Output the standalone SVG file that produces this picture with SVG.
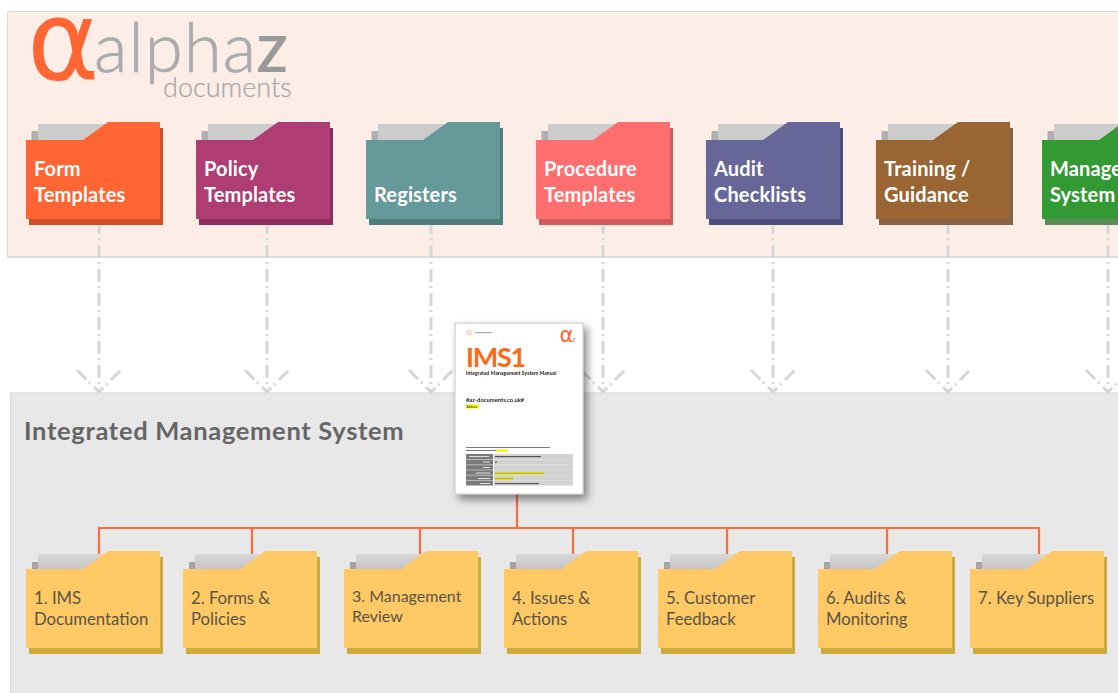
<svg xmlns="http://www.w3.org/2000/svg" width="1118" height="693" viewBox="0 0 1118 693">
<defs>
<style>
text{font-family:"Lato","Carlito","Liberation Sans",sans-serif}
.t{font-size:20px;font-weight:700;fill:#fff;letter-spacing:.15px}
.b{font-size:16.700px;fill:#5a5444}
.arrow{fill:none;stroke:#d6d6d6;stroke-width:3;stroke-dasharray:13 4 2 5}
.tree{fill:none;stroke:#ff6b3d;stroke-width:2.2}
.th{fill:#7a7a7a}.td{fill:#d2d2d2}.hl{fill:#f2f200}.ln{fill:#555}
</style>
<linearGradient id="tab" x1="0" y1="0" x2="0" y2="1"><stop offset="0" stop-color="#d8d8d8"/><stop offset="1" stop-color="#c2c2c2"/></linearGradient>
<g id="back"><path fill="#b0b0b0" d="M5.500 9h7v11h-7z"/><path fill="#cccccc" d="M12 2h70v20H12z"/></g>
<g id="backB"><path fill="#a4a4a4" d="M6 11h6v8H6z"/><path fill="url(#tab)" d="M12 3h70v17H12z"/></g>
<path id="f" d="M0 18H57L82 0H134V97H0Z"/>
<filter id="ds" x="-20%" y="-20%" width="140%" height="140%"><feDropShadow dx="4" dy="5" stdDeviation="4" flood-color="#000" flood-opacity=".45"/></filter>
<filter id="soft" x="-5%" y="-5%" width="110%" height="110%"><feGaussianBlur stdDeviation=".5"/></filter>
<filter id="soft2" x="-5%" y="-20%" width="110%" height="140%"><feGaussianBlur stdDeviation=".22"/></filter>
</defs>

<rect x="7.500" y="11.500" width="1120" height="245.500" fill="#fceee6" stroke="#dcdcdc"/>
<path fill="none" stroke="#dcdcdc" stroke-width="2" d="M7 257H1118"/>
<rect x="10.500" y="393" width="1120" height="310" fill="#e8e8e8" stroke="#d6d6d6"/>

<g id="logo">
<text x="27" y="79" font-size="110" fill="#ff6633" style="font-family:'DejaVu Sans',sans-serif">α</text>
<text x="94" y="72" font-size="69" fill="#ababab" stroke="#ababab" stroke-width=".7" letter-spacing="1" style="font-weight:300">alpha</text>
<text x="257" y="72" font-size="50" fill="#9a9a9a" style="font-weight:700">Z</text>
<text x="163" y="97" font-size="27" fill="#a8a8a8" stroke="#a8a8a8" stroke-width=".25" style="font-weight:300">documents</text>
</g>

<text id="ims-title" x="24" y="440" font-size="25.500" font-weight="700" fill="#666" letter-spacing=".67">Integrated Management System</text>

<g id="connectors">
<g class="arrows">
<path class="arrow" d="M99 221V392M77 370L99 392L121 370"/>
<path class="arrow" d="M267 221V392M245 370L267 392L289 370"/>
<path class="arrow" d="M431 221V392M409 370L431 392L453 370"/>
<path class="arrow" d="M603 221V392M581 370L603 392L625 370"/>
<path class="arrow" d="M773 221V392M751 370L773 392L795 370"/>
<path class="arrow" d="M948 221V392M926 370L948 392L970 370"/>
<path class="arrow" d="M1108 221V392M1086 370L1108 392L1130 370"/>
</g>
<path class="tree" d="M517 490V528M99 556V528H1039V556M252 528V556M420 528V556M573 528V556M727 528V556M887 528V556"/>
</g>

<g id="n-form" transform="translate(26 122)"><use href="#back"/><use href="#f" x="3" y="6" fill="#cf5028"/><use href="#f" fill="#ff6633"/><text class="t" x="8" y="54">Form</text><text class="t" x="8" y="80">Templates</text></g>
<g id="n-policy" transform="translate(196 122)"><use href="#back"/><use href="#f" x="3" y="6" fill="#8c2c5c"/><use href="#f" fill="#ad3d73"/><text class="t" x="8" y="54">Policy</text><text class="t" x="8" y="80">Templates</text></g>
<g id="n-registers" transform="translate(366 122)"><use href="#back"/><use href="#f" x="3" y="6" fill="#4f7c7c"/><use href="#f" fill="#669999"/><text class="t" x="8" y="80">Registers</text></g>
<g id="n-procedure" transform="translate(536 122)"><use href="#back"/><use href="#f" x="3" y="6" fill="#cf5c5c"/><use href="#f" fill="#ff6f6f"/><text class="t" x="8" y="54">Procedure</text><text class="t" x="8" y="80">Templates</text></g>
<g id="n-audit" transform="translate(706 122)"><use href="#back"/><use href="#f" x="3" y="6" fill="#4e4e7c"/><use href="#f" fill="#666699"/><text class="t" x="8" y="54">Audit</text><text class="t" x="8" y="80">Checklists</text></g>
<g id="n-training" transform="translate(876 122)"><use href="#back"/><use href="#f" x="3" y="6" fill="#886246"/><use href="#f" fill="#996633"/><text class="t" x="8" y="54">Training /</text><text class="t" x="8" y="80">Guidance</text></g>
<g id="n-management" transform="translate(1042 122)"><use href="#back"/><use href="#f" x="3" y="6" fill="#5c8a5c"/><use href="#f" fill="#339933"/><text class="t" x="8" y="54">Manage</text><text class="t" x="8" y="80">System</text></g>

<g id="n-1" transform="translate(26 551)"><use href="#backB"/><use href="#f" x="3" y="6" fill="#cdaa3c"/><use href="#f" fill="#ffc966"/><text class="b" x="8" y="53">1. IMS</text><text class="b" x="8" y="74">Documentation</text></g>
<g id="n-2" transform="translate(183 551)"><use href="#backB"/><use href="#f" x="3" y="6" fill="#cdaa3c"/><use href="#f" fill="#ffc966"/><text class="b" x="8" y="53">2. Forms &amp;</text><text class="b" x="8" y="74">Policies</text></g>
<g id="n-3" transform="translate(344 551)"><use href="#backB"/><use href="#f" x="3" y="6" fill="#cdaa3c"/><use href="#f" fill="#ffc966"/><text class="b" x="8" y="51" style="font-size:16px">3. Management</text><text class="b" x="8" y="71" style="font-size:16px">Review</text></g>
<g id="n-4" transform="translate(504 551)"><use href="#backB"/><use href="#f" x="3" y="6" fill="#cdaa3c"/><use href="#f" fill="#ffc966"/><text class="b" x="8" y="53">4. Issues &amp;</text><text class="b" x="8" y="74">Actions</text></g>
<g id="n-5" transform="translate(658 551)"><use href="#backB"/><use href="#f" x="3" y="6" fill="#cdaa3c"/><use href="#f" fill="#ffc966"/><text class="b" x="8" y="53">5. Customer</text><text class="b" x="8" y="74">Feedback</text></g>
<g id="n-6" transform="translate(818 551)"><use href="#backB"/><use href="#f" x="3" y="6" fill="#cdaa3c"/><use href="#f" fill="#ffc966"/><text class="b" x="8" y="53">6. Audits &amp;</text><text class="b" x="8" y="74">Monitoring</text></g>
<g id="n-7" transform="translate(970 551)"><use href="#backB"/><use href="#f" x="3" y="6" fill="#cdaa3c"/><use href="#f" fill="#ffc966"/><text class="b" x="8" y="53">7. Key Suppliers</text></g>

<g id="document">
<rect x="455" y="323" width="128" height="171" fill="#fff" stroke="#c8c8c8" filter="url(#ds)"/>
<text x="466" y="367" font-size="27" font-weight="700" fill="#ff6a13" letter-spacing="-1.300">IMS1</text>
<g filter="url(#soft2)">
<text x="466" y="374.500" font-size="5.100" font-weight="700" fill="#222">Integrated Management System Manual</text>
<text x="466" y="402" font-size="5.800" font-weight="700" fill="#222">#az-documents.co.uk#</text>
<rect x="466" y="404.500" width="13" height="4" class="hl"/>
<text x="466.500" y="408" font-size="3" fill="#333">Address</text>
</g>
<text x="559.500" y="342" font-size="21" fill="#ff6633" style="font-family:'DejaVu Sans',sans-serif">α</text>
<text x="572" y="342" font-size="8" fill="#999">z</text>
<g filter="url(#soft)">
<circle cx="469" cy="332.500" r="2" fill="none" stroke="#ff9a70" stroke-width=".8"/>
<rect x="475" y="332" width="17" height="1.200" fill="#aaa"/>
<rect x="466" y="447" width="84" height="1" class="ln" opacity=".8"/>
<rect x="466" y="450" width="31" height="1" class="ln" opacity=".8"/>
<rect x="496" y="449.500" width="12" height="2.200" class="hl"/>
<rect x="466" y="454" width="27" height="31.500" class="th"/>
<rect x="494" y="454" width="79" height="31.500" class="td"/>
<path stroke="#e6e6e6" stroke-width=".6" d="M466 459.500H573M466 464.800H573M466 470H573M466 475.200H573M466 480.400H573"/>
<rect x="495" y="472" width="49" height="2.400" class="hl"/>
<rect x="495" y="477.500" width="18" height="2.400" class="hl"/>
<rect x="495" y="456" width="46" height="1.200" class="ln"/>
<rect x="495" y="461.500" width="2" height="1.200" class="ln"/>
<rect x="495" y="472.700" width="49" height="1" class="ln" opacity=".5"/>
<rect x="495" y="478.200" width="18" height="1" class="ln" opacity=".5"/>
<rect x="495" y="483" width="44" height="1.200" class="ln"/>
<rect x="469" y="456" width="20" height="1" fill="#ddd"/>
<rect x="483" y="461.500" width="7" height="1" fill="#ddd"/>
<rect x="483" y="467" width="7" height="1" fill="#ddd"/>
<rect x="476" y="472.500" width="14" height="1" fill="#ddd"/>
<rect x="478" y="478" width="12" height="1" fill="#ddd"/>
<rect x="480" y="483" width="10" height="1" fill="#ddd"/>
</g>
</g>
</svg>
